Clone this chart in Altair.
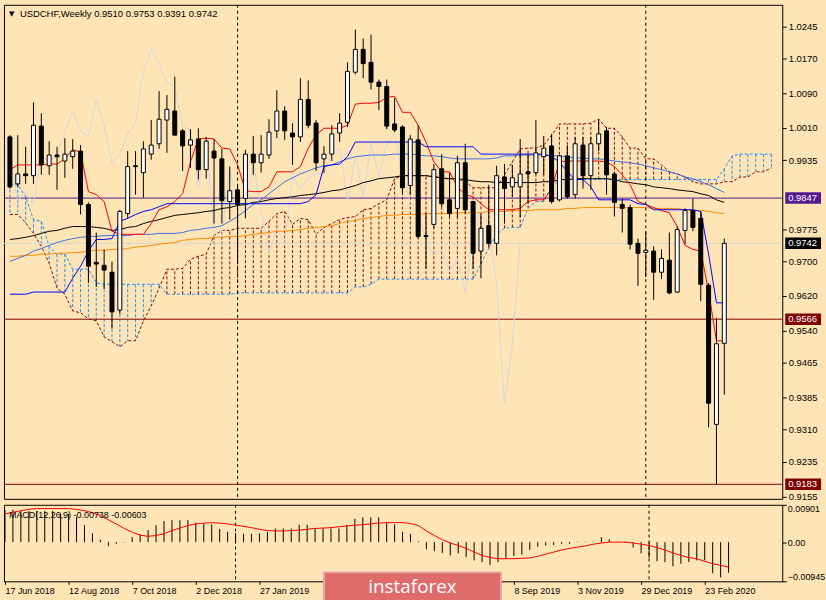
import altair as alt
import pandas as pd

# ---------------- data (weekly USDCHF, first bar = week of 17 Jun 2018) ----------------
opens = [0.9989, 0.9880, 0.9903, 0.9899, 1.0014, 0.9922, 0.9947, 0.9933, 0.9943, 0.9956,
         0.9832, 0.9698, 0.9691, 0.9675, 0.9587, 0.9811, 0.9922, 0.9906, 0.9949, 0.9973,
         1.0028, 1.0049, 1.0003, 0.9970, 0.9984, 0.9913, 0.9956, 0.9938, 0.9839, 0.9866,
         0.9846, 0.9949, 0.9929, 0.9947, 1.0003, 1.0049, 0.9998, 0.9989, 1.0076, 1.0021,
         0.9938, 0.9949, 0.9998, 1.0023, 1.0139, 1.0192, 1.0162, 1.0116, 1.0106, 1.0019,
         1.0012, 0.9876, 0.9982, 0.9760, 0.9786, 0.9915, 0.9843, 0.9823, 0.9929, 0.9839,
         0.9724, 0.9783, 0.9742, 0.9896, 0.9873, 0.9873, 0.9908, 0.9906, 0.9943, 0.9968,
         0.9843, 0.9945, 0.9855, 0.9970, 0.9899, 0.9973, 1.0003, 0.9903, 0.9832, 0.9825,
         0.9742, 0.9721, 0.9724, 0.9675, 0.9703, 0.9629, 0.9772, 0.9818, 0.9800, 0.9645,
         0.9322, 0.9510]
highs = [0.9993, 0.9993, 0.9966, 1.0069, 1.0044, 0.9979, 0.9966, 0.9986, 0.9984, 0.9970,
         0.9837, 0.9767, 0.9728, 0.9700, 0.9820, 0.9956, 0.9956, 0.9979, 1.0028, 1.0095,
         1.0086, 1.0129, 1.0007, 1.0007, 1.0009, 0.9989, 0.9984, 0.9961, 0.9920, 0.9878,
         0.9959, 0.9991, 0.9993, 1.0030, 1.0097, 1.0060, 1.0021, 1.0125, 1.0120, 1.0028,
         0.9968, 1.0016, 1.0044, 1.0162, 1.0238, 1.0217, 1.0226, 1.0122, 1.0122, 1.0079,
         1.0016, 0.9993, 1.0016, 0.9813, 0.9926, 0.9949, 0.9906, 0.9945, 0.9973, 0.9841,
         0.9811, 0.9878, 0.9922, 0.9926, 0.9924, 0.9984, 0.9949, 1.0028, 0.9991, 0.9996,
         0.9947, 0.9970, 0.9989, 0.9989, 0.9989, 1.0030, 1.0012, 0.9908, 0.9846, 0.9832,
         0.9753, 0.9770, 0.9735, 0.9728, 0.9767, 0.9781, 0.9823, 0.9846, 0.9816, 0.9650,
         0.9569, 0.9753]
lows = [0.9869, 0.9873, 0.9880, 0.9880, 0.9901, 0.9901, 0.9866, 0.9894, 0.9915, 0.9809,
        0.9650, 0.9641, 0.9636, 0.9544, 0.9578, 0.9800, 0.9855, 0.9848, 0.9936, 0.9961,
        0.9952, 0.9993, 0.9910, 0.9917, 0.9890, 0.9892, 0.9788, 0.9788, 0.9797, 0.9694,
        0.9800, 0.9901, 0.9906, 0.9938, 0.9986, 0.9982, 0.9924, 0.9977, 1.0009, 0.9910,
        0.9906, 0.9933, 0.9977, 1.0012, 1.0134, 1.0125, 1.0099, 1.0051, 1.0007, 1.0000,
        0.9855, 0.9855, 0.9753, 0.9684, 0.9777, 0.9827, 0.9802, 0.9802, 0.9811, 0.9684,
        0.9661, 0.9735, 0.9714, 0.9788, 0.9850, 0.9802, 0.9834, 0.9901, 0.9901, 0.9834,
        0.9839, 0.9846, 0.9846, 0.9869, 0.9866, 0.9956, 0.9855, 0.9804, 0.9767, 0.9728,
        0.9643, 0.9664, 0.9611, 0.9659, 0.9624, 0.9627, 0.9740, 0.9770, 0.9608, 0.9315,
        0.9183, 0.9391]
closes = [0.9873, 0.9903, 0.9899, 1.0016, 0.9924, 0.9947, 0.9943, 0.9949, 0.9956, 0.9832,
          0.9689, 0.9694, 0.9680, 0.9583, 0.9816, 0.9920, 0.9920, 0.9961, 0.9970, 1.0030,
          1.0053, 0.9993, 0.9968, 0.9982, 0.9913, 0.9979, 0.9940, 0.9841, 0.9864, 0.9832,
          0.9949, 0.9929, 0.9949, 1.0000, 1.0049, 1.0003, 0.9989, 1.0076, 1.0016, 0.9929,
          0.9949, 0.9996, 1.0021, 1.0141, 1.0192, 1.0159, 1.0116, 1.0106, 1.0014, 1.0005,
          0.9871, 0.9984, 0.9758, 0.9758, 0.9913, 0.9834, 0.9811, 0.9929, 0.9820, 0.9719,
          0.9777, 0.9742, 0.9899, 0.9869, 0.9894, 0.9903, 0.9903, 0.9952, 0.9963, 0.9839,
          0.9945, 0.9850, 0.9973, 0.9899, 0.9973, 0.9996, 0.9901, 0.9837, 0.9823, 0.9740,
          0.9719, 0.9726, 0.9675, 0.9707, 0.9627, 0.9774, 0.9818, 0.9779, 0.9647, 0.9371,
          0.9509, 0.9742]

tenkan = [0.9913, 0.9924, 0.9924, 0.9924, 0.9924, 0.9926, 0.9926, 0.9938, 0.9959, 0.9954,
          0.9862, 0.9855, 0.9839, 0.9770, 0.9763, 0.9763, 0.9763, 0.9763, 0.9788, 0.9820,
          0.9827, 0.9839, 0.9857, 0.9931, 0.9984, 0.9986, 0.9984, 0.9963, 0.9961, 0.9924,
          0.9864, 0.9862, 0.9862, 0.9873, 0.9908, 0.9908, 0.9908, 0.9920, 0.9963, 0.9993,
          1.0009, 1.0009, 1.0009, 1.0016, 1.0065, 1.0067, 1.0067, 1.0069, 1.0081, 1.0083,
          1.0046, 1.0046, 1.0016, 0.9977, 0.9931, 0.9908, 0.9908, 0.9873, 0.9855, 0.9850,
          0.9834, 0.9820, 0.9820, 0.9820, 0.9820, 0.9823, 0.9839, 0.9843, 0.9843, 0.9869,
          0.9931, 0.9933, 0.9933, 0.9933, 0.9933, 0.9933, 0.9931, 0.9920, 0.9901, 0.9878,
          0.9839, 0.9832, 0.9825, 0.9818, 0.9813, 0.9781, 0.9737, 0.9728, 0.9724, 0.9631,
          0.9516, 0.9516]
kijun = [0.9624, 0.9624, 0.9624, 0.9629, 0.9629, 0.9629, 0.9629, 0.9629, 0.9661, 0.9689,
         0.9724, 0.9751, 0.9751, 0.9753, 0.9793, 0.9800, 0.9809, 0.9816, 0.9820, 0.9827,
         0.9834, 0.9834, 0.9834, 0.9834, 0.9834, 0.9834, 0.9834, 0.9834, 0.9834, 0.9834,
         0.9834, 0.9834, 0.9834, 0.9834, 0.9834, 0.9834, 0.9834, 0.9834, 0.9839, 0.9855,
         0.9920, 0.9924, 0.9926, 0.9943, 0.9977, 0.9977, 0.9977, 0.9977, 0.9977, 0.9977,
         0.9977, 0.9977, 0.9977, 0.9966, 0.9966, 0.9966, 0.9966, 0.9966, 0.9966, 0.9966,
         0.9949, 0.9949, 0.9949, 0.9949, 0.9949, 0.9949, 0.9949, 0.9949, 0.9949, 0.9943,
         0.9931, 0.9908, 0.9890, 0.9890, 0.9873, 0.9843, 0.9843, 0.9843, 0.9843, 0.9843,
         0.9834, 0.9832, 0.9820, 0.9820, 0.9820, 0.9820, 0.9820, 0.9820, 0.9816, 0.9717,
         0.9604, 0.9604]
span_a = [0.9878, 0.9878, 0.9850, 0.9797, 0.9793, 0.9735, 0.9717, 0.9717, 0.9682, 0.9682,
          0.9682, 0.9650, 0.9647, 0.9647, 0.9647, 0.9647, 0.9647, 0.9647, 0.9647, 0.9647,
          0.9624, 0.9624, 0.9624, 0.9624, 0.9624, 0.9624, 0.9624, 0.9624, 0.9624, 0.9627,
          0.9627, 0.9627, 0.9627, 0.9627, 0.9627, 0.9627, 0.9627, 0.9627, 0.9627, 0.9627,
          0.9627, 0.9627, 0.9627, 0.9627, 0.9641, 0.9641, 0.9647, 0.9659, 0.9659, 0.9659,
          0.9659, 0.9659, 0.9659, 0.9659, 0.9659, 0.9659, 0.9659, 0.9659, 0.9659, 0.9659,
          0.9694, 0.9730, 0.9763, 0.9777, 0.9779, 0.9779, 0.9823, 0.9839, 0.9839, 0.9873,
          0.9890, 0.9890, 0.9890, 0.9890, 0.9890, 0.9890, 0.9890, 0.9890, 0.9890, 0.9890,
          0.9890, 0.9890, 0.9890, 0.9890, 0.9890, 0.9890, 0.9890, 0.9890, 0.9890, 0.9890,
          0.9890, 0.9915, 0.9945, 0.9949, 0.9949, 0.9949, 0.9949, 0.9949]
span_b = [0.9809, 0.9809, 0.9790, 0.9765, 0.9735, 0.9696, 0.9638, 0.9624, 0.9585, 0.9581,
          0.9567, 0.9562, 0.9525, 0.9514, 0.9502, 0.9516, 0.9516, 0.9562, 0.9597, 0.9638,
          0.9682, 0.9682, 0.9684, 0.9705, 0.9712, 0.9717, 0.9760, 0.9772, 0.9772, 0.9777,
          0.9777, 0.9777, 0.9777, 0.9793, 0.9811, 0.9816, 0.9786, 0.9800, 0.9797, 0.9763,
          0.9779, 0.9788, 0.9797, 0.9802, 0.9804, 0.9820, 0.9823, 0.9834, 0.9843, 0.9892,
          0.9899, 0.9899, 0.9899, 0.9899, 0.9899, 0.9892, 0.9892, 0.9892, 0.9885, 0.9871,
          0.9871, 0.9871, 0.9871, 0.9901, 0.9931, 0.9961, 0.9963, 0.9963, 0.9970, 0.9993,
          1.0019, 1.0019, 1.0019, 1.0019, 1.0021, 1.0030, 1.0009, 1.0009, 0.9989, 0.9963,
          0.9963, 0.9938, 0.9938, 0.9924, 0.9908, 0.9903, 0.9896, 0.9885, 0.9880, 0.9880,
          0.9880, 0.9885, 0.9885, 0.9896, 0.9896, 0.9908, 0.9908, 0.9917]
ma_black = [0.9751, 0.9753, 0.9756, 0.9760, 0.9765, 0.9770, 0.9772, 0.9777, 0.9781, 0.9781,
            0.9781, 0.9779, 0.9777, 0.9772, 0.9774, 0.9779, 0.9781, 0.9788, 0.9793, 0.9797,
            0.9802, 0.9807, 0.9809, 0.9811, 0.9813, 0.9816, 0.9818, 0.9823, 0.9825, 0.9830,
            0.9832, 0.9837, 0.9839, 0.9843, 0.9846, 0.9848, 0.9850, 0.9853, 0.9855, 0.9857,
            0.9860, 0.9864, 0.9866, 0.9871, 0.9876, 0.9883, 0.9887, 0.9892, 0.9894, 0.9896,
            0.9899, 0.9899, 0.9899, 0.9899, 0.9896, 0.9894, 0.9892, 0.9892, 0.9890, 0.9887,
            0.9885, 0.9885, 0.9883, 0.9883, 0.9883, 0.9883, 0.9883, 0.9883, 0.9885, 0.9885,
            0.9890, 0.9890, 0.9892, 0.9892, 0.9892, 0.9892, 0.9892, 0.9890, 0.9885, 0.9883,
            0.9880, 0.9878, 0.9873, 0.9871, 0.9869, 0.9866, 0.9864, 0.9862, 0.9857, 0.9853,
            0.9843, 0.9837]
ma_orange = [0.9712, 0.9712, 0.9714, 0.9714, 0.9717, 0.9717, 0.9719, 0.9719, 0.9721, 0.9721,
             0.9724, 0.9726, 0.9726, 0.9728, 0.9728, 0.9730, 0.9733, 0.9735, 0.9737, 0.9740,
             0.9742, 0.9744, 0.9749, 0.9751, 0.9753, 0.9753, 0.9756, 0.9756, 0.9758, 0.9758,
             0.9760, 0.9763, 0.9765, 0.9767, 0.9770, 0.9770, 0.9772, 0.9774, 0.9777, 0.9779,
             0.9781, 0.9783, 0.9788, 0.9793, 0.9795, 0.9800, 0.9802, 0.9804, 0.9807, 0.9807,
             0.9809, 0.9809, 0.9809, 0.9811, 0.9811, 0.9811, 0.9811, 0.9813, 0.9813, 0.9813,
             0.9813, 0.9816, 0.9816, 0.9816, 0.9818, 0.9818, 0.9818, 0.9820, 0.9820, 0.9820,
             0.9820, 0.9823, 0.9823, 0.9825, 0.9825, 0.9825, 0.9825, 0.9825, 0.9825, 0.9825,
             0.9825, 0.9825, 0.9823, 0.9823, 0.9823, 0.9823, 0.9820, 0.9818, 0.9818, 0.9816,
             0.9813, 0.9811]
ma_blue = [0.9700, 0.9707, 0.9714, 0.9724, 0.9730, 0.9737, 0.9744, 0.9749, 0.9753, 0.9756,
           0.9758, 0.9758, 0.9760, 0.9760, 0.9760, 0.9760, 0.9763, 0.9763, 0.9763, 0.9765,
           0.9765, 0.9765, 0.9767, 0.9772, 0.9774, 0.9777, 0.9779, 0.9783, 0.9793, 0.9804,
           0.9818, 0.9832, 0.9843, 0.9857, 0.9871, 0.9885, 0.9894, 0.9903, 0.9910, 0.9917,
           0.9922, 0.9924, 0.9931, 0.9938, 0.9943, 0.9945, 0.9947, 0.9947, 0.9947, 0.9949,
           0.9949, 0.9949, 0.9947, 0.9945, 0.9945, 0.9943, 0.9940, 0.9938, 0.9938, 0.9938,
           0.9938, 0.9938, 0.9940, 0.9945, 0.9945, 0.9947, 0.9947, 0.9947, 0.9947, 0.9945,
           0.9945, 0.9943, 0.9940, 0.9940, 0.9938, 0.9938, 0.9936, 0.9933, 0.9931, 0.9929,
           0.9926, 0.9922, 0.9917, 0.9913, 0.9908, 0.9903, 0.9896, 0.9892, 0.9885, 0.9878,
           0.9869, 0.9860]
macd_hist = [0.0078, 0.0078, 0.0076, 0.0075, 0.0075, 0.0075, 0.0075, 0.0070, 0.0068, 0.0061,
             0.0041, 0.0021, 0.0006, -0.0009, -0.0004, -0.0001, 0.0012, 0.0018, 0.0029, 0.0041,
             0.0051, 0.0053, 0.0053, 0.0053, 0.0047, 0.0045, 0.0043, 0.0032, 0.0025, 0.0022,
             0.0020, 0.0020, 0.0021, 0.0025, 0.0033, 0.0033, 0.0033, 0.0042, 0.0042, 0.0033,
             0.0033, 0.0033, 0.0033, 0.0042, 0.0056, 0.0060, 0.0060, 0.0060, 0.0047, 0.0043,
             0.0025, 0.0020, 0.0002, -0.0017, -0.0022, -0.0026, -0.0032, -0.0027, -0.0036, -0.0044,
             -0.0048, -0.0055, -0.0048, -0.0040, -0.0033, -0.0030, -0.0019, -0.0011, -0.0008, -0.0007,
             -0.0004, -0.0004, 0.0001, 0.0001, 0.0001, 0.0012, 0.0007, 0.0001, -0.0002, -0.0013,
             -0.0027, -0.0038, -0.0046, -0.0048, -0.0058, -0.0052, -0.0048, -0.0044, -0.0044, -0.0075,
             -0.0085, -0.00738]
macd_signal = [0.0068, 0.0072, 0.0076, 0.0079, 0.0081, 0.0081, 0.0081, 0.0081, 0.0081, 0.0079,
               0.0076, 0.0071, 0.0064, 0.0054, 0.0044, 0.0033, 0.0024, 0.0017, 0.0014, 0.0016,
               0.0020, 0.0028, 0.0034, 0.0040, 0.0044, 0.0046, 0.0047, 0.0046, 0.0044, 0.0041,
               0.0038, 0.0035, 0.0031, 0.0028, 0.0027, 0.0027, 0.0028, 0.0029, 0.0031, 0.0033,
               0.0034, 0.0035, 0.0037, 0.0039, 0.0041, 0.0042, 0.0044, 0.0046, 0.0047, 0.0047,
               0.0047, 0.0045, 0.0040, 0.0027, 0.0016, 0.0006, -0.0002, -0.0008, -0.0015, -0.0024,
               -0.0032, -0.0037, -0.0040, -0.0040, -0.0040, -0.0039, -0.0038, -0.0034, -0.0029, -0.0024,
               -0.0019, -0.0015, -0.0012, -0.0009, -0.0005, -0.0002, 0.0000, 0.0000, 0.0000, -0.0002,
               -0.0005, -0.0008, -0.0013, -0.0019, -0.0026, -0.0032, -0.0037, -0.0040, -0.0046, -0.0052,
               -0.0056, -0.00603]

# visible date labels (the ones under the watermark are not shown in the reference)
date_labels = ["17 Jun 2018", "12 Aug 2018", "7 Oct 2018", "2 Dec 2018", "27 Jan 2019",
               "8 Sep 2019", "3 Nov 2019", "29 Dec 2019", "23 Feb 2020"]
date_label_bars = [0, 8, 16, 24, 32, 64, 72, 80, 88]
year_separator_bars = [29, 81]

price_ticks = [1.0245, 1.0170, 1.0090, 1.0010, 0.9935, 0.9775, 0.9700, 0.9620,
               0.9540, 0.9465, 0.9385, 0.9310, 0.9235, 0.9155]
level_prices = [0.9847, 0.9742, 0.9566, 0.9183]
level_labels = ["0.9847", "0.9742", "0.9566", "0.9183"]
level_line_colors = ["#55188f", "#d4d4d4", "#800000", "#800000"]
level_box_colors = ["#55188f", "#000000", "#800000", "#800000"]
macd_ticks = [-0.00945, 0.0, 0.00901]

# ---------------- frames ----------------
BG = "#FFE4B5"
FONT = "Liberation Sans"
BLUE_KUMO = "#1e90ff"
BROWN_KUMO = "#8b0a0a"

n = len(opens)
bars = pd.DataFrame({"k": list(range(n)), "open": opens, "high": highs, "low": lows,
                     "close": closes, "tenkan": tenkan, "kijun": kijun,
                     "ma_black": ma_black, "ma_orange": ma_orange, "ma_blue": ma_blue,
                     "hist": macd_hist, "signal": macd_signal})
bars["body_fill"] = ["white" if c >= o else "black" for o, c in zip(opens, closes)]
bars["zero"] = 0.0
chikou = pd.DataFrame({"k": list(range(n - 26)), "chikou": closes[26:]})

cloud = pd.DataFrame({"k": list(range(len(span_a))), "span_a": span_a, "span_b": span_b})
cloud["hatch"] = [BLUE_KUMO if a >= b else BROWN_KUMO for a, b in zip(span_a, span_b)]

levels = pd.DataFrame({"price": level_prices, "label": level_labels,
                       "line_color": level_line_colors, "box_color": level_box_colors})
seps = pd.DataFrame({"k": year_separator_bars})
label_pos = pd.DataFrame({"k": date_label_bars, "label": date_labels})

last = bars.iloc[-1]
title_txt = "USDCHF,Weekly  %.4f %.4f %.4f %.4f" % (last["open"], last["high"], last["low"], last["close"])
macd_txt = "MACD(12,26,9) %.5f %.5f" % (macd_hist[-1], macd_signal[-1])

# ---------------- scales / axes ----------------
W, H, MH = 783, 497, 77
xs = alt.Scale(domain=[-0.125, 97.75], nice=False, zero=False)
ys = alt.Scale(domain=[0.91493, 1.02954], nice=False, zero=False)
ms = alt.Scale(domain=[-0.00945, 0.00901], nice=False, zero=False)

yaxis = alt.Axis(orient="right", values=price_ticks, format=".4f", tickSize=4, labelPadding=2,
                 labelOverlap=False, labelFlush=False, title=None, domain=False, grid=False,
                 labelFont=FONT, labelFontSize=9.5)
maxis = alt.Axis(orient="right", values=macd_ticks, tickSize=4, labelPadding=1,
                 labelExpr="datum.value == 0 ? '0.00' : format(datum.value, '.5f')",
                 labelOverlap=False, labelFlush=True, title=None, domain=False, grid=False,
                 labelFont=FONT, labelFontSize=9)
label_js = "{" + ",".join("'%d':'%s'" % (b, s) for b, s in zip(date_label_bars, date_labels)) + "}"
xaxis = alt.Axis(values=date_label_bars, labelExpr=label_js + "[''+round(datum.value)]",
                 tickSize=3, labelAlign="left", labelPadding=2, labelOverlap=False,
                 labelFlush=False, title=None, domain=False, grid=False,
                 labelFont=FONT, labelFontSize=9)


def X():
    return alt.X("k:Q", scale=xs, axis=None)


def XM():
    return alt.X("k:Q", scale=xs, axis=xaxis)


def Y(f):
    return alt.Y(f + ":Q", scale=ys, axis=yaxis)


def YM(f):
    return alt.Y(f + ":Q", scale=ms, axis=maxis)


def line(df, field, color, dash=None, width=1):
    kw = dict(color=color, strokeWidth=width, interpolate="linear")
    if dash:
        kw["strokeDash"] = dash
    return alt.Chart(df).mark_line(**kw).encode(x=X(), y=Y(field))


BOX = "M-1,-0.32L1,-0.32L1,0.32L-1,0.32Z"

hatch = alt.Chart(cloud).mark_rule(strokeWidth=1, strokeDash=[3, 2]).encode(
    x=X(), y=Y("span_a"), y2="span_b:Q", color=alt.Color("hatch:N", scale=None))
hlines = alt.Chart(levels).mark_rule(strokeWidth=1).encode(
    y=Y("price"), color=alt.Color("line_color:N", scale=None))
sep_main = alt.Chart(seps).mark_rule(color="black", strokeWidth=1, strokeDash=[3, 3]).encode(x=X())
wicks = alt.Chart(bars).mark_rule(color="black", strokeWidth=1).encode(x=X(), y=Y("low"), y2="high:Q")
bodies = alt.Chart(bars).mark_bar(width=4, stroke="black", strokeWidth=1).encode(
    x=X(), y=Y("open"), y2="close:Q", fill=alt.Fill("body_fill:N", scale=None))
title_mark = alt.Chart(pd.DataFrame({"t": [title_txt]})).mark_text(
    align="left", baseline="middle", font=FONT, fontSize=9.5, color="black").encode(
    x=alt.value(16), y=alt.value(9), text="t:N")
tri_mark = alt.Chart(pd.DataFrame({"t": ["\u25bc"]})).mark_text(
    align="left", baseline="middle", font="DejaVu Sans", fontSize=7, color="black").encode(
    x=alt.value(5), y=alt.value(9), text="t:N")
boxes = alt.Chart(levels).mark_point(shape=BOX, size=1296, filled=True, opacity=1, strokeWidth=0).encode(
    x=alt.value(804), y=Y("price"), color=alt.Color("box_color:N", scale=None))
box_text = alt.Chart(levels).mark_text(align="left", baseline="middle", font=FONT, fontSize=9.5,
                                       color="white").encode(x=alt.value(789), y=Y("price"), text="label:N")

main = alt.layer(
    hatch,
    line(cloud, "span_a", BLUE_KUMO, [3, 2]),
    line(cloud, "span_b", BROWN_KUMO, [3, 2]),
    hlines,
    line(chikou, "chikou", "#d3d6e2"),
    line(bars, "ma_orange", "#ff8c00"),
    line(bars, "ma_black", "#000000"),
    line(bars, "ma_blue", "#3f6fe0"),
    line(bars, "tenkan", "#ff0000"),
    line(bars, "kijun", "#0000ff"),
    sep_main,
    wicks,
    bodies,
    tri_mark,
    title_mark,
    boxes,
    box_text,
).properties(width=W, height=H)

sep_macd = alt.Chart(seps).mark_rule(color="black", strokeWidth=1, strokeDash=[3, 3]).encode(x=XM())
hist = alt.Chart(bars).mark_rule(color="black", strokeWidth=1).encode(x=XM(), y=YM("hist"), y2="zero:Q")
sig = alt.Chart(bars).mark_line(color="#ff0000", strokeWidth=1).encode(x=XM(), y=YM("signal"))
macd_label = alt.Chart(pd.DataFrame({"t": [macd_txt]})).mark_text(
    align="left", baseline="middle", font=FONT, fontSize=9, color="black").encode(
    x=alt.value(5), y=alt.value(10), text="t:N")
wm_box = alt.Chart(pd.DataFrame({"t": ["instaforex"]})).mark_rect(
    fill="#df6b6b", stroke="#eba3a3", strokeWidth=2).encode(
    x=alt.value(322), x2=alt.value(500), y=alt.value(68), y2=alt.value(101))
wm_text = alt.Chart(pd.DataFrame({"t": ["instaforex"]})).mark_text(
    align="center", baseline="middle", font="Open Sans", fontSize=19, color="white").encode(
    x=alt.value(411), y=alt.value(83), text="t:N")

macd = alt.layer(sep_macd, hist, sig, macd_label, wm_box, wm_text).properties(width=W, height=MH)

chart = alt.vconcat(main, macd, spacing=2).properties(
    padding={"left": 2, "top": 2, "right": 0, "bottom": 0}, background=BG
).configure_view(stroke="black", strokeWidth=1, fill=BG).configure_axis(
    labelColor="black", tickColor="black")

chart.save("out.html", embed_options={"renderer": "svg", "actions": False})
